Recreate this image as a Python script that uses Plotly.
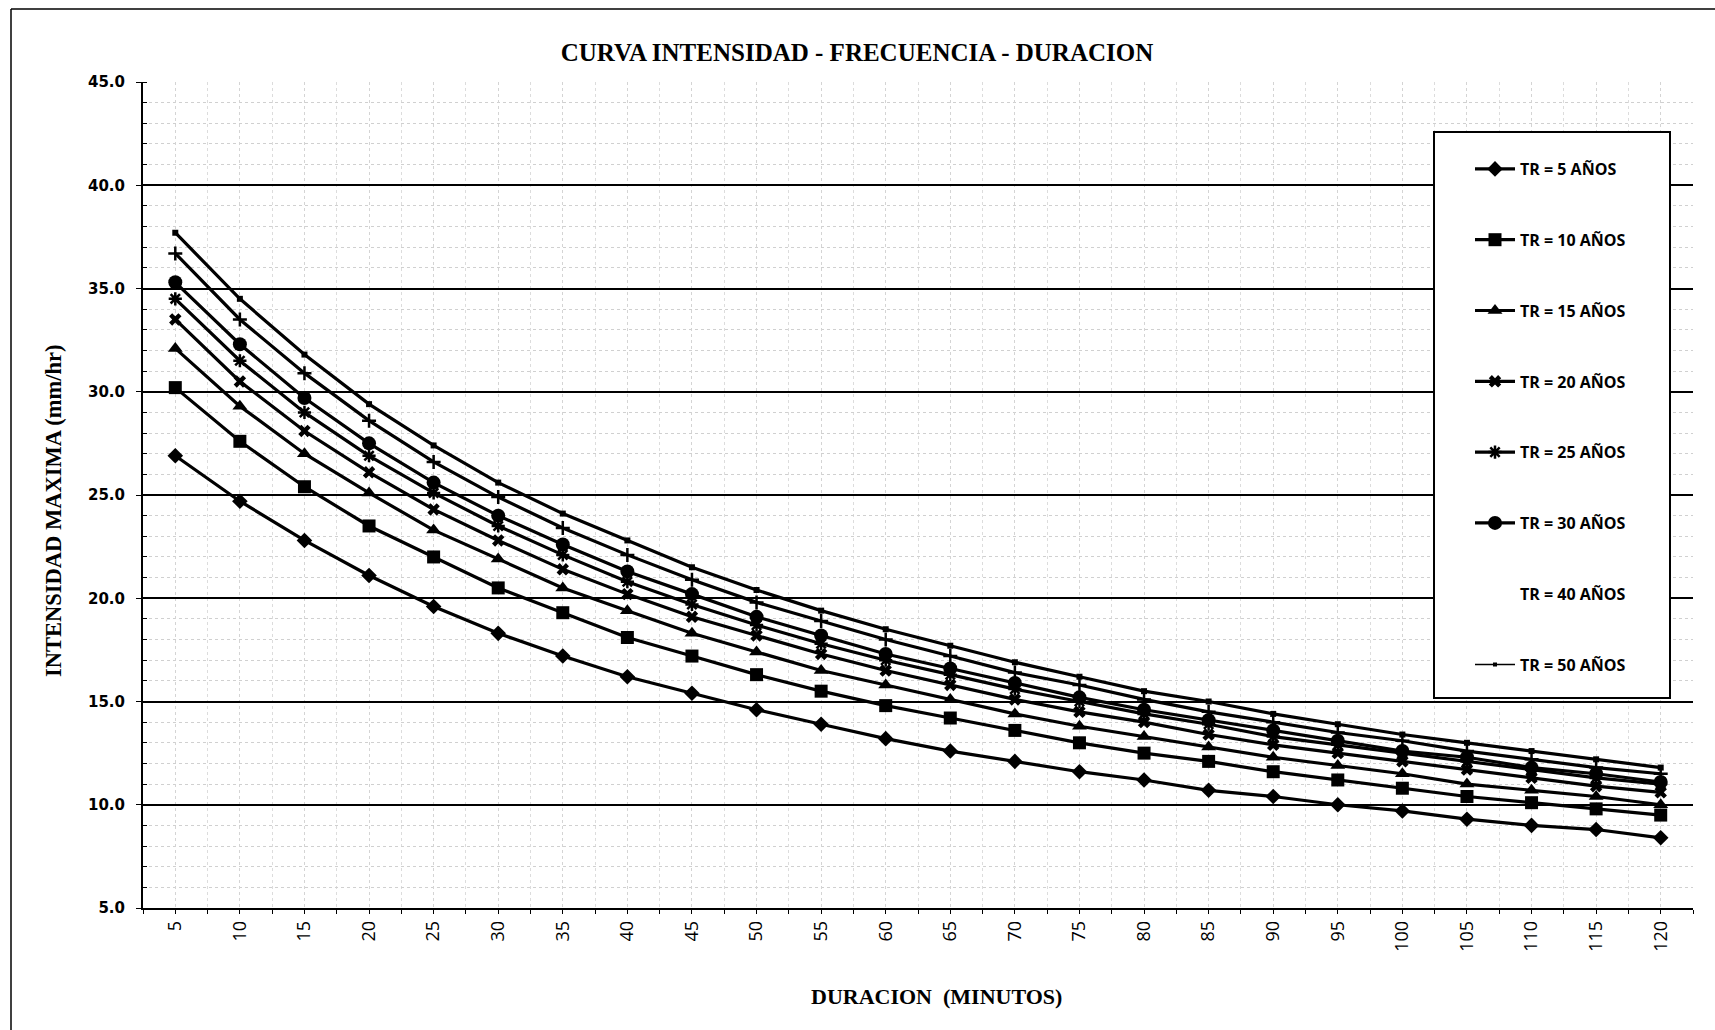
import plotly.graph_objects as go

duracion = [5, 10, 15, 20, 25, 30, 35, 40, 45, 50, 55, 60, 65, 70, 75, 80, 85, 90, 95, 100, 105, 110, 115, 120]

tr5 = [26.9, 24.7, 22.8, 21.1, 19.6, 18.3, 17.2, 16.2, 15.4, 14.6, 13.9, 13.2, 12.6, 12.1, 11.6, 11.2, 10.7, 10.4, 10.0, 9.7, 9.3, 9.0, 8.8, 8.4]
tr10 = [30.2, 27.6, 25.4, 23.5, 22.0, 20.5, 19.3, 18.1, 17.2, 16.3, 15.5, 14.8, 14.2, 13.6, 13.0, 12.5, 12.1, 11.6, 11.2, 10.8, 10.4, 10.1, 9.8, 9.5]
tr15 = [32.1, 29.3, 27.0, 25.1, 23.3, 21.9, 20.5, 19.4, 18.3, 17.4, 16.5, 15.8, 15.1, 14.4, 13.8, 13.3, 12.8, 12.3, 11.9, 11.5, 11.0, 10.7, 10.4, 10.0]
tr20 = [33.5, 30.5, 28.1, 26.1, 24.3, 22.8, 21.4, 20.2, 19.1, 18.2, 17.3, 16.5, 15.8, 15.1, 14.5, 14.0, 13.4, 12.9, 12.5, 12.1, 11.7, 11.3, 10.9, 10.6]
tr25 = [34.5, 31.5, 29.0, 26.9, 25.1, 23.5, 22.1, 20.8, 19.7, 18.7, 17.8, 17.0, 16.3, 15.6, 15.0, 14.4, 13.9, 13.3, 12.9, 12.5, 12.1, 11.7, 11.3, 11.0]
tr30 = [35.3, 32.3, 29.7, 27.5, 25.6, 24.0, 22.6, 21.3, 20.2, 19.1, 18.2, 17.3, 16.6, 15.9, 15.2, 14.6, 14.1, 13.6, 13.1, 12.6, 12.3, 11.8, 11.5, 11.1]
tr40 = [36.7, 33.5, 30.9, 28.6, 26.6, 24.9, 23.4, 22.1, 20.9, 19.8, 18.9, 18.0, 17.2, 16.4, 15.8, 15.1, 14.5, 14.0, 13.5, 13.1, 12.6, 12.2, 11.8, 11.5]
tr50 = [37.7, 34.5, 31.8, 29.4, 27.4, 25.6, 24.1, 22.8, 21.5, 20.4, 19.4, 18.5, 17.7, 16.9, 16.2, 15.5, 15.0, 14.4, 13.9, 13.4, 13.0, 12.6, 12.2, 11.8]

series_names = ["TR = 5 AÑOS", "TR = 10 AÑOS", "TR = 15 AÑOS", "TR = 20 AÑOS",
                "TR = 25 AÑOS", "TR = 30 AÑOS", "TR = 40 AÑOS", "TR = 50 AÑOS"]
series_values = [tr5, tr10, tr15, tr20, tr25, tr30, tr40, tr50]
symbols = ["diamond", "square", "triangle-up", "x", "asterisk-open", "circle", "cross-thin-open", "square"]
sizes = [12, 13, 13, 11, 11, 14, 10, 6]

ytick_vals = [5, 10, 15, 20, 25, 30, 35, 40, 45]

fig = go.Figure()

for i, (name, vals, sym, sz) in enumerate(zip(series_names, series_values, symbols, sizes)):
    real_legend = i < 6
    fig.add_trace(go.Scatter(
        x=duracion, y=vals, name=name, mode="lines+markers",
        line=dict(color="black", width=3.2),
        marker=dict(symbol=sym, size=sz, color="black",
                    line=dict(color="black", width=2.5 if "open" in sym else 0)),
        showlegend=real_legend, legendgroup=name, legendrank=i + 1,
    ))

# legend-only entries for the last two series (as they appear in the scan)
fig.add_trace(go.Scatter(
    x=[None], y=[None], name=series_names[6], mode="lines",
    line=dict(color="white", width=1), legendgroup="l40", legendrank=7))
fig.add_trace(go.Scatter(
    x=[None], y=[None], name=series_names[7], mode="lines+markers",
    line=dict(color="black", width=1.5),
    marker=dict(symbol="square", size=4, color="black"),
    legendgroup="l50", legendrank=8))

L, R, T, B = 143, 22, 82, 122
W, H = 1715, 1030
pw, ph = W - L - R, H - T - B

def px(x):
    return (x - L) / pw

def py(y):
    return (H - B - y) / ph

fig.update_layout(
    width=W, height=H,
    margin=dict(l=L, r=R, t=T, b=B),
    paper_bgcolor="white", plot_bgcolor="white",
    title=dict(text="<b>CURVA INTENSIDAD - FRECUENCIA - DURACION</b>",
               x=857 / W, xref="container", xanchor="center",
               y=1 - 52 / H, yanchor="middle", yref="container",
               font=dict(family="Liberation Serif", size=25, color="black")),
    font=dict(family="Open Sans", color="black"),
    showlegend=True,
    legend=dict(x=px(1470), y=py(152), xanchor="left", yanchor="top",
                bgcolor="rgba(0,0,0,0)", borderwidth=0,
                traceorder="grouped", tracegroupgap=47,
                font=dict(family="Open Sans", size=16, color="black", weight="bold"),
                itemwidth=40),
    xaxis=dict(range=[2.5, 122.5], tickmode="array", tickvals=duracion,
               ticktext=[str(d) for d in duracion], tickangle=-90,
               tickfont=dict(family="Open Sans", size=18, color="black"),
               showgrid=True, gridcolor="#d4d4d4", griddash="dot", gridwidth=1,
               minor=dict(tick0=2.5, dtick=5, showgrid=True, gridcolor="#dcdcdc",
                          griddash="dot", gridwidth=1, ticks="outside", ticklen=4,
                          tickcolor="black"),
               showline=True, linecolor="black", linewidth=1.5,
               ticks="outside", ticklen=4, tickcolor="black",
               zeroline=False),
    yaxis=dict(range=[5, 45], tickmode="array", tickvals=ytick_vals,
               tickformat=".1f",
               tickfont=dict(family="DejaVu Sans", size=15, color="black", weight="bold"),
               showgrid=True, gridcolor="black", gridwidth=2,
               minor=dict(dtick=1, showgrid=True, gridcolor="#d0d0d0", griddash="dot",
                          gridwidth=1, ticks="inside", ticklen=4, tickcolor="black"),
               showline=True, linecolor="black", linewidth=2,
               ticks="outside", ticklen=5, tickcolor="black",
               ticklabelstandoff=8, zeroline=False),
    annotations=[
        dict(text="<b>DURACION  (MINUTOS)</b>", x=px(937), y=py(997), xref="paper", yref="paper",
             xanchor="center", yanchor="middle", showarrow=False,
             font=dict(family="Liberation Serif", size=22, color="black")),
        dict(text="<b>INTENSIDAD MAXIMA (mm/hr)</b>", x=px(53), y=py(511), xref="paper", yref="paper",
             xanchor="center", yanchor="middle", showarrow=False, textangle=-90,
             font=dict(family="Liberation Serif", size=22.5, color="black")),
    ],
    shapes=[
        # legend box
        dict(type="rect", xref="paper", yref="paper",
             x0=px(1434), x1=px(1670), y0=py(698), y1=py(132),
             line=dict(color="black", width=2), fillcolor="white", layer="above"),
        # outer chart frame (left & top edges)
        dict(type="line", xref="paper", yref="paper",
             x0=px(11), x1=px(11), y0=py(1030), y1=py(9),
             line=dict(color="black", width=1.5)),
        dict(type="line", xref="paper", yref="paper",
             x0=px(11), x1=px(1715), y0=py(9), y1=py(9),
             line=dict(color="black", width=1.5)),
    ],
)

fig.write_html("out.html")
